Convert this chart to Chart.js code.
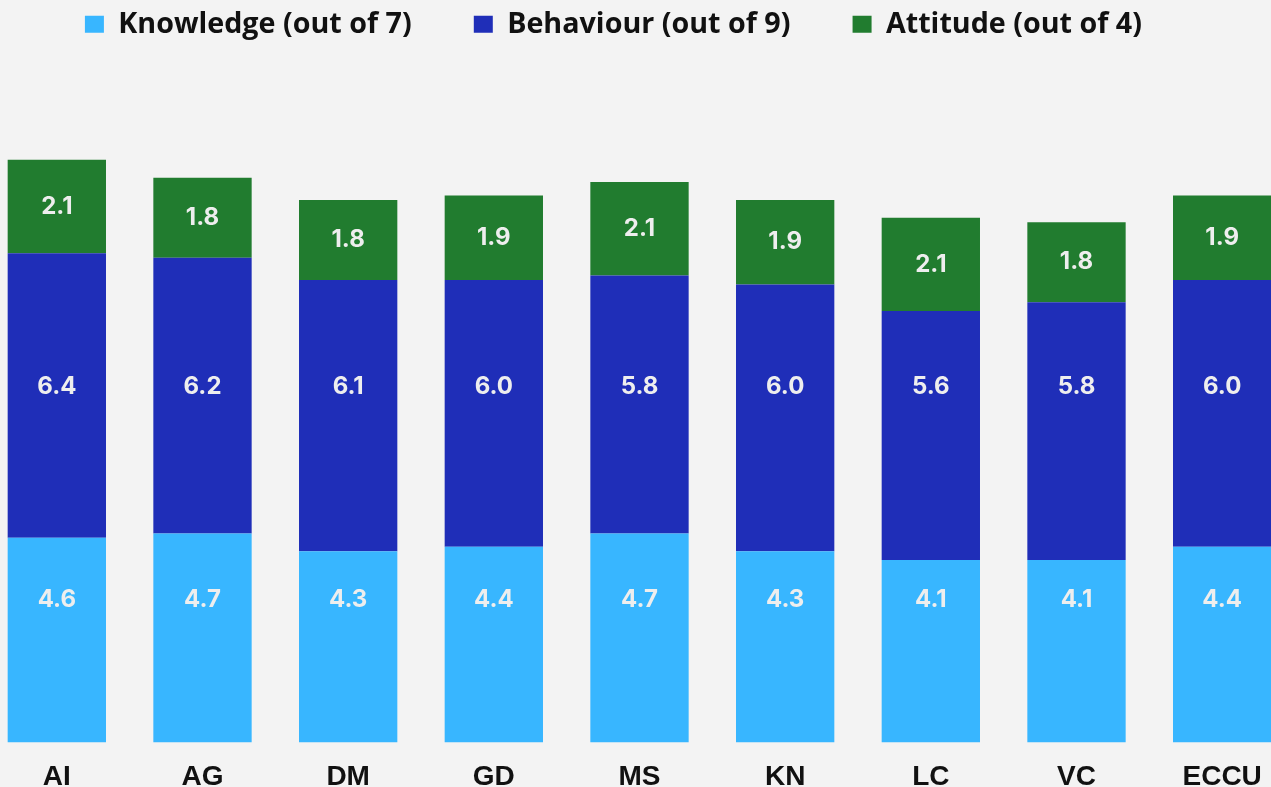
<!DOCTYPE html>
<html>
<head>
<meta charset="utf-8">
<script src="https://cdn.jsdelivr.net/npm/chart.js@4.4.1/dist/chart.umd.min.js"></script>
<style>
  html, body { margin: 0; padding: 0; background: #f3f3f3; overflow: hidden; }
  #wrap { position: absolute; left: -16px; top: 0; width: 1311px; height: 812px; }
</style>
</head>
<body>
<div id="wrap"><canvas id="scoreChart"></canvas></div>
<script>
// categories and series
var categories = ['AI', 'AG', 'DM', 'GD', 'MS', 'KN', 'LC', 'VC', 'ECCU'];
var knowledge = [4.6, 4.7, 4.3, 4.4, 4.7, 4.3, 4.1, 4.1, 4.4];
var behaviour = [6.4, 6.2, 6.1, 6.0, 5.8, 6.0, 5.6, 5.8, 6.0];
var attitude = [2.1, 1.8, 1.8, 1.9, 2.1, 1.9, 2.1, 1.8, 1.9];
var seriesNames = ['Knowledge (out of 7)', 'Behaviour (out of 9)', 'Attitude (out of 4)'];

// where the value labels sit (scale value), null = middle of segment
var labelAnchor = [3.2, 8.0, null];

var valueLabels = {
    id: 'valueLabels',
    afterDatasetsDraw: function (chart) {
        var ctx = chart.ctx;
        var y = chart.scales.y;
        ctx.save();
        ctx.font = 'bold 24px Inter, "DejaVu Sans", sans-serif';
        ctx.fillStyle = '#eeeeee';
        ctx.textAlign = 'center';
        ctx.textBaseline = 'middle';
        chart.data.datasets.forEach(function (ds, i) {
            var meta = chart.getDatasetMeta(i);
            meta.data.forEach(function (bar, j) {
                var py;
                if (labelAnchor[i] !== null) {
                    py = y.getPixelForValue(labelAnchor[i]);
                } else {
                    py = (bar.y + bar.base) / 2;
                }
                ctx.fillText(ds.data[j].toFixed(1), bar.x, py);
            });
        });
        ctx.restore();
    }
};

document.addEventListener('DOMContentLoaded', function () {
    var ctx = document.getElementById('scoreChart').getContext('2d');
    new Chart(ctx, {
        type: 'bar',
        data: {
            labels: categories,
            datasets: [{
                label: seriesNames[0],
                data: knowledge,
                backgroundColor: '#38b6ff'
            }, {
                label: seriesNames[1],
                data: behaviour,
                backgroundColor: '#1f2eb8'
            }, {
                label: seriesNames[2],
                data: attitude,
                backgroundColor: '#217c2f'
            }]
        },
        options: {
            responsive: true,
            maintainAspectRatio: false,
            animation: false,
            datasets: {
                bar: { categoryPercentage: 0.675, barPercentage: 1.0 }
            },
            layout: { padding: 0 },
            plugins: {
                tooltip: { enabled: false },
                legend: {
                    position: 'top',
                    labels: {
                        color: '#111111',
                        font: { family: '"Open Sans", sans-serif', size: 28.7, weight: 'bold' },
                        boxWidth: 19,
                        boxHeight: 17,
                        padding: 10,
                        generateLabels: function (chart) {
                            // pad the names so the items spread out like the original
                            var items = Chart.defaults.plugins.legend.labels.generateLabels(chart);
                            items.forEach(function (it) {
                                it.text = it.text + '       ';
                            });
                            return items;
                        }
                    }
                }
            },
            scales: {
                x: {
                    stacked: true,
                    grid: { display: false, drawTicks: false },
                    border: { display: false },
                    ticks: {
                        color: '#111111',
                        padding: 18,
                        font: { family: '"Liberation Sans", Arial, sans-serif', size: 28, weight: 'bold' }
                    }
                },
                y: {
                    stacked: true,
                    display: false,
                    min: 0,
                    max: 15.6
                }
            }
        },
        plugins: [valueLabels]
    });
});
</script>
</body>
</html>
